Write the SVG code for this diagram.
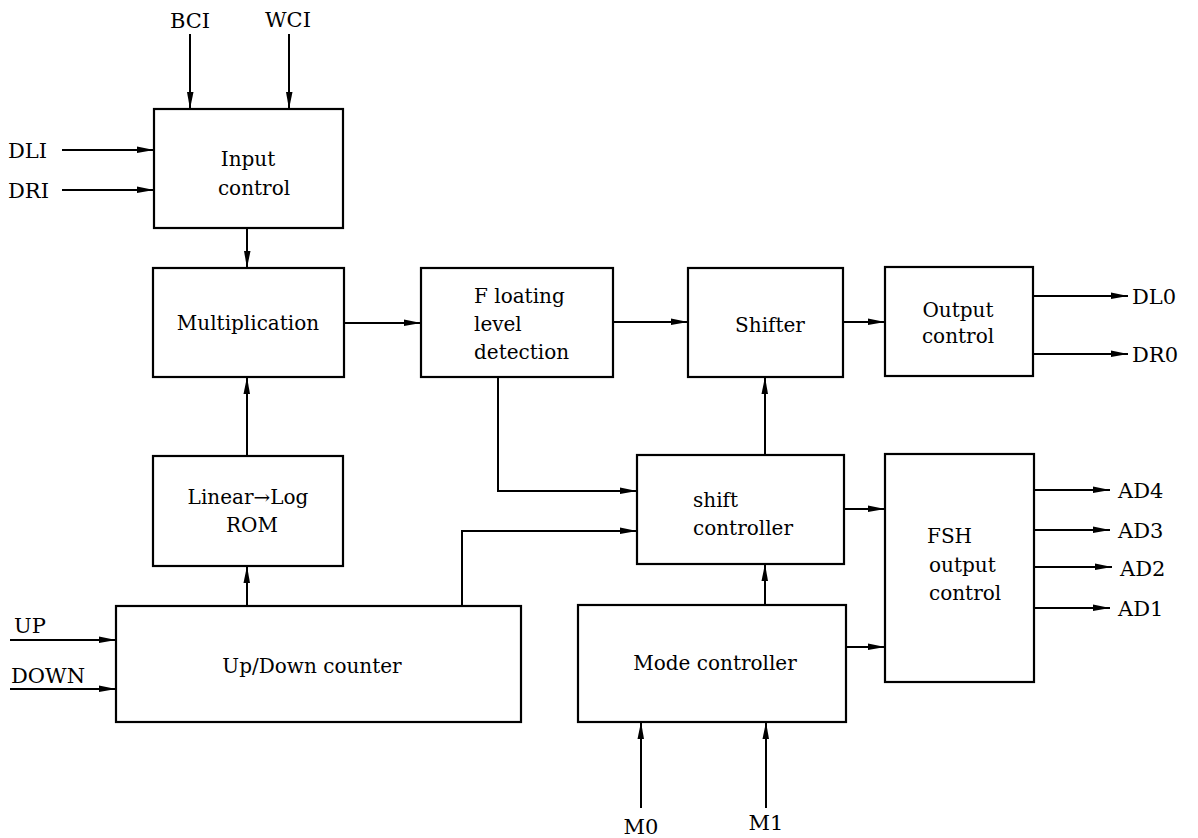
<svg xmlns="http://www.w3.org/2000/svg" width="1198" height="838" viewBox="0 0 1198 838">
<defs>
<style>
.box{fill:#fff;stroke:#000;stroke-width:2.2}
.ln{fill:none;stroke:#000;stroke-width:2}
.lb{font-family:"DejaVu Serif","Liberation Serif",serif;font-size:21px;fill:#000}
.nt{font-family:"DejaVu Serif","Liberation Serif",serif;font-size:20px;fill:#000}
.m{text-anchor:middle}
</style>
<marker id="ah" markerUnits="userSpaceOnUse" markerWidth="18" markerHeight="9" refX="17" refY="4.5" orient="auto">
<path d="M0,1 L17,4.5 L0,7.5 Z" fill="#000"/>
</marker>
</defs>
<rect width="1198" height="838" fill="#fff"/>

<g id="connectors" class="ln">
<line x1="190" y1="34" x2="190" y2="109" marker-end="url(#ah)"/>
<line x1="289" y1="34" x2="289" y2="109" marker-end="url(#ah)"/>
<line x1="62" y1="150" x2="154" y2="150" marker-end="url(#ah)"/>
<line x1="62" y1="190" x2="154" y2="190" marker-end="url(#ah)"/>
<line x1="247" y1="228" x2="247" y2="268" marker-end="url(#ah)"/>
<line x1="344" y1="323" x2="421" y2="323" marker-end="url(#ah)"/>
<line x1="247" y1="456" x2="247" y2="377" marker-end="url(#ah)"/>
<line x1="247" y1="606" x2="247" y2="566" marker-end="url(#ah)"/>
<line x1="613" y1="322" x2="688" y2="322" marker-end="url(#ah)"/>
<line x1="843" y1="322" x2="885" y2="322" marker-end="url(#ah)"/>
<line x1="1033" y1="296" x2="1128" y2="296" marker-end="url(#ah)"/>
<line x1="1033" y1="354" x2="1128" y2="354" marker-end="url(#ah)"/>
<polyline points="498,377 498,491 637,491" marker-end="url(#ah)"/>
<polyline points="462,606 462,531 637,531" marker-end="url(#ah)"/>
<line x1="765" y1="455" x2="765" y2="377" marker-end="url(#ah)"/>
<line x1="765" y1="605" x2="765" y2="564" marker-end="url(#ah)"/>
<line x1="844" y1="509" x2="885" y2="509" marker-end="url(#ah)"/>
<line x1="846" y1="647" x2="885" y2="647" marker-end="url(#ah)"/>
<line x1="1034" y1="490" x2="1110" y2="490" marker-end="url(#ah)"/>
<line x1="1034" y1="530" x2="1110" y2="530" marker-end="url(#ah)"/>
<line x1="1034" y1="567" x2="1112" y2="567" marker-end="url(#ah)"/>
<line x1="1034" y1="608" x2="1110" y2="608" marker-end="url(#ah)"/>
<line x1="10" y1="640" x2="116" y2="640" marker-end="url(#ah)"/>
<line x1="10" y1="689" x2="116" y2="689" marker-end="url(#ah)"/>
<line x1="641" y1="808" x2="641" y2="722" marker-end="url(#ah)"/>
<line x1="766" y1="808" x2="766" y2="722" marker-end="url(#ah)"/>
</g>

<g id="labels" class="lb">
<text x="190" y="28" class="m">BCI</text>
<text x="288" y="27" class="m">WCI</text>
<text x="8" y="158">DLI</text>
<text x="8" y="198">DRI</text>
<text x="1132" y="304">DL0</text>
<text x="1132" y="362">DR0</text>
<text x="1118" y="498">AD4</text>
<text x="1118" y="538">AD3</text>
<text x="1120" y="576">AD2</text>
<text x="1118" y="616">AD1</text>
<text x="14" y="633">UP</text>
<text x="11" y="683">DOWN</text>
<text x="641" y="834" class="m">M0</text>
<text x="766" y="830" class="m">M1</text>
</g>

<g id="input-control">
<rect class="box" x="154" y="109" width="189" height="119"/>
<text class="nt m" x="248" y="166">Input</text>
<text class="nt m" x="254" y="195">control</text>
</g>
<g id="multiplication">
<rect class="box" x="153" y="268" width="191" height="109"/>
<text class="nt m" x="248" y="330">Multiplication</text>
</g>
<g id="rom">
<rect class="box" x="153" y="456" width="190" height="110"/>
<text class="nt m" x="248" y="504">Linear→Log</text>
<text class="nt m" x="252" y="532">ROM</text>
</g>
<g id="floating">
<rect class="box" x="421" y="268" width="192" height="109"/>
<text class="nt" x="474" y="303">F loating</text>
<text class="nt" x="474" y="331">level</text>
<text class="nt" x="474" y="359">detection</text>
</g>
<g id="shifter">
<rect class="box" x="688" y="268" width="155" height="109"/>
<text class="nt m" x="770" y="332">Shifter</text>
</g>
<g id="output-control">
<rect class="box" x="885" y="267" width="148" height="109"/>
<text class="nt m" x="958" y="317">Output</text>
<text class="nt m" x="958" y="343">control</text>
</g>
<g id="shift-controller">
<rect class="box" x="637" y="455" width="207" height="109"/>
<text class="nt" x="693" y="507">shift</text>
<text class="nt" x="693" y="535">controller</text>
</g>
<g id="fsh-output-control">
<rect class="box" x="885" y="454" width="149" height="228"/>
<text class="nt" x="927" y="543">FSH</text>
<text class="nt" x="929" y="572">output</text>
<text class="nt" x="929" y="600">control</text>
</g>
<g id="updown-counter">
<rect class="box" x="116" y="606" width="405" height="116"/>
<text class="nt m" x="312" y="673">Up/Down counter</text>
</g>
<g id="mode-controller">
<rect class="box" x="578" y="605" width="268" height="117"/>
<text class="nt m" x="715" y="670">Mode controller</text>
</g>
</svg>
